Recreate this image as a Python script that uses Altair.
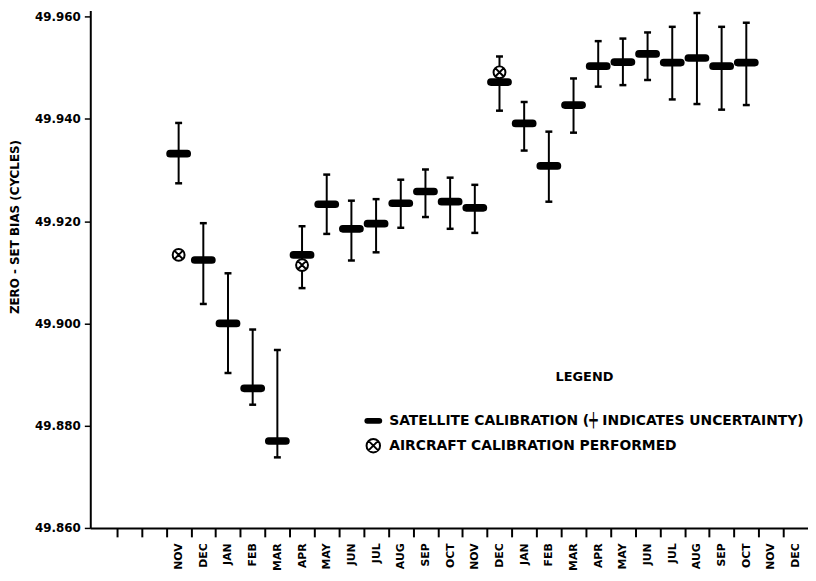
import altair as alt
import pandas as pd

# ---- data ----
month_labels = ['', '', '', 'NOV', 'DEC', 'JAN', 'FEB', 'MAR', 'APR', 'MAY', 'JUN', 'JUL',
                'AUG', 'SEP', 'OCT', 'NOV', 'DEC', 'JAN', 'FEB', 'MAR', 'APR', 'MAY', 'JUN',
                'JUL', 'AUG', 'SEP', 'OCT', 'NOV', 'DEC']

sat_index = [3, 4, 5, 6, 7, 8, 9, 10, 11, 12, 13, 14, 15, 16, 17, 18, 19, 20, 21, 22, 23, 24, 25, 26]
sat_value = [49.9332, 49.9124, 49.9000, 49.8873, 49.8770, 49.9134, 49.9233, 49.9185,
             49.9195, 49.9235, 49.9258, 49.9238, 49.9226, 49.9472, 49.9391, 49.9308,
             49.9427, 49.9503, 49.9511, 49.9527, 49.9510, 49.9519, 49.9503, 49.9510]
sat_low = [49.9274, 49.9038, 49.8903, 49.8841, 49.8738, 49.9069, 49.9175, 49.9123,
           49.9139, 49.9187, 49.9208, 49.9185, 49.9177, 49.9416, 49.9338, 49.9238,
           49.9373, 49.9463, 49.9466, 49.9476, 49.9438, 49.9429, 49.9418, 49.9427]
sat_high = [49.9392, 49.9196, 49.9098, 49.8988, 49.8948, 49.9190, 49.9291, 49.9240,
            49.9243, 49.9281, 49.9301, 49.9285, 49.9271, 49.9522, 49.9433, 49.9375,
            49.9479, 49.9552, 49.9557, 49.9569, 49.9580, 49.9607, 49.9580, 49.9588]

air_index = [3, 8, 16]
air_value = [49.9134, 49.9114, 49.9491]

y_ticks = [49.86, 49.88, 49.90, 49.92, 49.94, 49.96]

SAT = "SATELLITE CALIBRATION (\u253f INDICATES UNCERTAINTY)"
AIR = "AIRCRAFT CALIBRATION PERFORMED"
kinds = [SAT, AIR]

BAR_PATH = ("M-0.75,-0.25 H0.75 A0.25,0.25 0 0 1 0.75,0.25 H-0.75 "
            "A0.25,0.25 0 0 1 -0.75,-0.25 Z")
OTIMES_PATH = ("M-0.85,0 A0.85,0.85 0 1,0 0.85,0 A0.85,0.85 0 1,0 -0.85,0 Z "
               "M-0.6,-0.6 L0.6,0.6 M-0.6,0.6 L0.6,-0.6")

sat_df = pd.DataFrame({'idx': sat_index, 'value': sat_value, 'low': sat_low,
                       'high': sat_high, 'kind': SAT})
caps_df = pd.DataFrame({'idx': sat_index + sat_index, 'cap': sat_low + sat_high})
air_df = pd.DataFrame({'idx': air_index, 'value': air_value, 'kind': AIR})

FONT = 'DejaVu Sans'
label_expr = "[" + ",".join("'%s'" % m for m in month_labels) + "][round(datum.value + 0.5)]"
tick_values = [i - 0.5 for i in range(1, len(month_labels))]

x_scale = alt.Scale(domain=[-0.58, 28.5], nice=False, zero=False)
y_scale = alt.Scale(domain=[49.86, 49.9612], nice=False, zero=False)

x_axis = alt.Axis(values=tick_values, tickCount=100, labelExpr=label_expr, labelAngle=270,
                  labelOffset=12.45, tickSize=9, tickWidth=2, labelPadding=6,
                  domainWidth=2, title=None, grid=False, labelOverlap=False,
                  labelFlush=False, labelFontSize=11)
y_axis = alt.Axis(values=y_ticks, tickCount=100, format='.3f', title='ZERO - SET BIAS (CYCLES)',
                  titleX=-76.5, titleY=218, titleAngle=270, titleAlign='center',
                  titleBaseline='middle', titleFontSize=12, tickSize=6, tickWidth=1.5,
                  labelPadding=4, domainWidth=2, grid=False, labelFontSize=12)

legend = alt.Legend(title='LEGEND', orient='none', legendX=276.5, legendY=364,
                    titleAnchor='middle', titleFontSize=13, titleFont=FONT,
                    titleFontWeight='bold', titlePadding=28, labelFontSize=14,
                    labelFont=FONT, labelFontWeight='bold', labelOffset=7,
                    labelLimit=700, symbolSize=256, rowPadding=7,
                    symbolStrokeColor='black', symbolStrokeWidth=2)

shape_scale = alt.Scale(domain=kinds, range=[BAR_PATH, OTIMES_PATH])
fill_scale = alt.Scale(domain=kinds, range=['black', 'white'])
stroke_scale = alt.Scale(domain=kinds, range=['black', 'black'])

rules = alt.Chart(sat_df).mark_rule(color='black', strokeWidth=2).encode(
    x=alt.X('idx:Q', scale=x_scale, axis=x_axis),
    y=alt.Y('low:Q', scale=y_scale, axis=y_axis),
    y2='high:Q')

caps = alt.Chart(caps_df).mark_tick(orient='horizontal', color='black', size=7,
                                    thickness=2.5, opacity=1).encode(
    x=alt.X('idx:Q', scale=x_scale), y=alt.Y('cap:Q', scale=y_scale))


def symbol_layer(df, size):
    return alt.Chart(df).mark_point(filled=True, size=size, strokeWidth=2,
                                    opacity=1).encode(
        x=alt.X('idx:Q', scale=x_scale), y=alt.Y('value:Q', scale=y_scale),
        shape=alt.Shape('kind:N', scale=shape_scale, legend=legend),
        fill=alt.Fill('kind:N', scale=fill_scale, legend=legend),
        stroke=alt.Stroke('kind:N', scale=stroke_scale, legend=legend))


bars = symbol_layer(sat_df, 529)
air = symbol_layer(air_df, 200)

chart = alt.layer(rules, caps, bars, air).properties(
    width=724, height=522, autosize='none',
    padding={'left': 83, 'top': 0, 'right': 0, 'bottom': 45},
    background='white'
).configure(font=FONT).configure_view(stroke=None).configure_axis(
    labelFont=FONT, labelFontWeight='bold', labelColor='black',
    titleFont=FONT, titleFontWeight='bold', titleColor='black',
    domainColor='black', tickColor='black')

chart.save("out.html", embed_options={"renderer": "svg", "actions": False})
